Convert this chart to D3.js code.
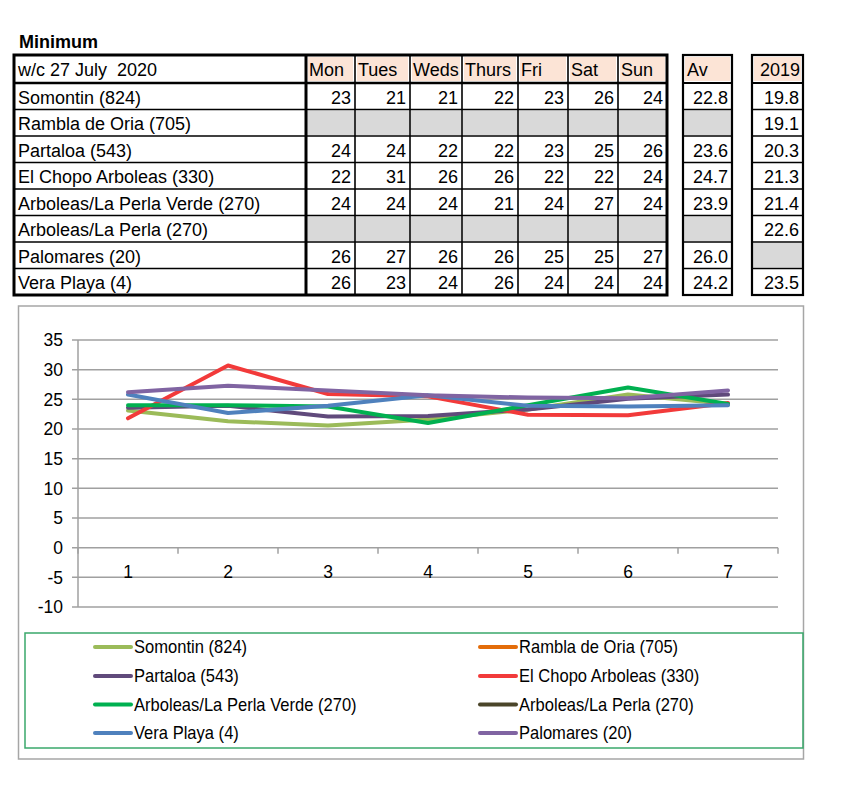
<!DOCTYPE html>
<html><head><meta charset="utf-8">
<script src="https://cdn.jsdelivr.net/npm/d3@7"></script>
<style>
body{margin:0;background:#fff}
svg{display:block}
text{font-family:"Liberation Sans",Arial,sans-serif;fill:#000}
</style></head>
<body><svg id="c" width="859" height="800"></svg>
<script>
// ---------------- DATA ----------------
const title = "Minimum";
const weekLabel = "w/c 27 July  2020";
const days = ["Mon","Tues","Weds","Thurs","Fri","Sat","Sun"];
const stations = ["Somontin (824)","Rambla de Oria (705)","Partaloa (543)","El Chopo Arboleas (330)",
  "Arboleas/La Perla Verde (270)","Arboleas/La Perla (270)","Palomares (20)","Vera Playa (4)"];
const tableSomontin  = [23,21,21,22,23,26,24];
const tableRambla    = [null,null,null,null,null,null,null];
const tablePartaloa  = [24,24,22,22,23,25,26];
const tableChopo     = [22,31,26,26,22,22,24];
const tableVerde     = [24,24,24,21,24,27,24];
const tablePerla     = [null,null,null,null,null,null,null];
const tablePalomares = [26,27,26,26,25,25,27];
const tableVera      = [26,23,24,26,24,24,24];
const averages   = [22.8,null,23.6,24.7,23.9,null,26.0,24.2];
const values2019 = [19.8,19.1,20.3,21.3,21.4,22.6,null,23.5];

// chart series (legend / drawing order)
const seriesNames = ["Somontin (824)","Rambla de Oria (705)","Partaloa (543)","El Chopo Arboleas (330)",
  "Arboleas/La Perla Verde (270)","Arboleas/La Perla (270)","Vera Playa (4)","Palomares (20)"];
const seriesColors = ["#9bbb59","#e36c09","#604a7b","#f23a3a","#00b050","#4a4529","#4f81bd","#8064a2"];
const chartSomontin  = [23.1,21.3,20.6,21.6,23.3,25.8,24.2];
const chartRambla    = [];
const chartPartaloa  = [23.6,23.9,22.1,22.2,23.3,25.1,25.8];
const chartChopo     = [21.8,30.7,25.9,25.5,22.4,22.3,24.4];
const chartVerde     = [24.0,24.0,23.8,21.0,24.0,27.0,24.2];
const chartPerla     = [];
const chartVera      = [25.8,22.7,23.9,25.7,23.9,23.8,24.0];
const chartPalomares = [26.2,27.3,26.5,25.7,25.3,25.2,26.5];
const xCategories = [1,2,3,4,5,6,7];
const yTicks = [-10,-5,0,5,10,15,20,25,30,35];

// ---------------- BUILD ----------------
const tableRows = [tableSomontin,tableRambla,tablePartaloa,tableChopo,tableVerde,tablePerla,tablePalomares,tableVera];
const chartSeries = [chartSomontin,chartRambla,chartPartaloa,chartChopo,chartVerde,chartPerla,chartVera,chartPalomares];

const svg = d3.select("#c");
const FS = 18, AFS = 17.5;

// title
svg.append("text").attr("x",19).attr("y",48).attr("font-weight","bold").attr("font-size",18).text(title);

// table layout
const tTop = 55, headH = 28, rowH = 26.5;
const labelL = 14;
const dayEdges = [306,355,410,462,518,568,618,667];
const avEdges = [683,732];
const y19Edges = [752,803];
const rowY = i => tTop + headH + i*rowH;
const tBottom = rowY(stations.length);

const peach = "#fce4d6", grey = "#d9d9d9";
const g = svg.append("g");

// header fills
days.forEach((d,i)=>{
  g.append("rect").attr("x",dayEdges[i]+2).attr("y",tTop+2).attr("width",dayEdges[i+1]-dayEdges[i]-4).attr("height",headH-4).attr("fill",peach);
});
g.append("rect").attr("x",avEdges[0]+2).attr("y",tTop+2).attr("width",avEdges[1]-avEdges[0]-4).attr("height",headH-4).attr("fill",peach);
g.append("rect").attr("x",y19Edges[0]+2).attr("y",tTop+2).attr("width",y19Edges[1]-y19Edges[0]-4).attr("height",headH-4).attr("fill",peach);

// grey fills for missing
tableRows.forEach((row,r)=>{
  row.forEach((v,c)=>{
    if(v===null) g.append("rect").attr("x",dayEdges[c]+1).attr("y",rowY(r)+1).attr("width",dayEdges[c+1]-dayEdges[c]-2).attr("height",rowH-2).attr("fill",grey);
  });
  if(averages[r]===null) g.append("rect").attr("x",avEdges[0]+1).attr("y",rowY(r)+1).attr("width",avEdges[1]-avEdges[0]-2).attr("height",rowH-2).attr("fill",grey);
  if(values2019[r]===null) g.append("rect").attr("x",y19Edges[0]+1).attr("y",rowY(r)+1).attr("width",y19Edges[1]-y19Edges[0]-2).attr("height",rowH-2).attr("fill",grey);
});

// lines
function hline(x1,x2,y,w){g.append("line").attr("x1",x1).attr("x2",x2).attr("y1",y).attr("y2",y).attr("stroke","#000").attr("stroke-width",w);}
function vline(x,y1,y2,w){g.append("line").attr("x1",x).attr("x2",x).attr("y1",y1).attr("y2",y2).attr("stroke","#000").attr("stroke-width",w);}
for(let i=1;i<stations.length;i++){ hline(labelL,dayEdges[7],rowY(i),1.6); hline(avEdges[0],avEdges[1],rowY(i),1.6); hline(y19Edges[0],y19Edges[1],rowY(i),1.6);}
hline(labelL,dayEdges[7],rowY(0),2.6); hline(avEdges[0],avEdges[1],rowY(0),2); hline(y19Edges[0],y19Edges[1],rowY(0),2);
for(let i=1;i<7;i++) vline(dayEdges[i],tTop,tBottom,1.6);
vline(dayEdges[0],tTop,tBottom,3);
g.append("rect").attr("x",labelL).attr("y",tTop).attr("width",dayEdges[7]-labelL).attr("height",tBottom-tTop).attr("fill","none").attr("stroke","#000").attr("stroke-width",3);
g.append("rect").attr("x",avEdges[0]).attr("y",tTop).attr("width",avEdges[1]-avEdges[0]).attr("height",tBottom-tTop).attr("fill","none").attr("stroke","#000").attr("stroke-width",2.2);
g.append("rect").attr("x",y19Edges[0]).attr("y",tTop).attr("width",y19Edges[1]-y19Edges[0]).attr("height",tBottom-tTop).attr("fill","none").attr("stroke","#000").attr("stroke-width",2.2);

// texts
const tx = svg.append("g").attr("font-size",FS);
tx.append("text").attr("x",18).attr("y",tTop+headH-7).attr("xml:space","preserve").style("white-space","pre").text(weekLabel);
days.forEach((d,i)=>tx.append("text").attr("x",dayEdges[i]+3).attr("y",tTop+headH-7).text(d));
tx.append("text").attr("x",avEdges[0]+4).attr("y",tTop+headH-7).text("Av");
tx.append("text").attr("x",y19Edges[1]-3).attr("y",tTop+headH-7).attr("text-anchor","end").text("2019");
stations.forEach((s,r)=>{
  const by = rowY(r)+rowH-6;
  tx.append("text").attr("x",18).attr("y",by).text(s);
  tableRows[r].forEach((v,c)=>{ if(v!==null) tx.append("text").attr("x",dayEdges[c+1]-4).attr("y",by).attr("text-anchor","end").text(v); });
  if(averages[r]!==null) tx.append("text").attr("x",avEdges[1]-4).attr("y",by).attr("text-anchor","end").text(averages[r].toFixed(1));
  if(values2019[r]!==null) tx.append("text").attr("x",y19Edges[1]-4).attr("y",by).attr("text-anchor","end").text(values2019[r].toFixed(1));
});

// ---------------- CHART ----------------
svg.append("rect").attr("x",18.5).attr("y",306).attr("width",785).attr("height",453).attr("fill","#fff").attr("stroke","#a6a6a6").attr("stroke-width",1.5);

const x = d3.scaleBand().domain(xCategories).range([78,778]).paddingInner(0).paddingOuter(0);
const y = d3.scaleLinear().domain([-10,35]).range([607,340]);
const gridC = "#a0a0a0";
const cg = svg.append("g");
yTicks.forEach(t=>{
  cg.append("line").attr("x1",72).attr("x2",778).attr("y1",y(t)).attr("y2",y(t)).attr("stroke",gridC).attr("stroke-width",1.5);
  cg.append("text").attr("x",63).attr("y",y(t)).attr("dy","0.36em").attr("text-anchor","end").attr("font-size",AFS).text(t);
});
cg.append("line").attr("x1",78).attr("x2",78).attr("y1",y(35)).attr("y2",y(-10)).attr("stroke",gridC).attr("stroke-width",1.5);
// x axis at zero
const edges = xCategories.map(c=>x(c)).concat([x(xCategories[xCategories.length-1])+x.bandwidth()]);
edges.forEach(e=>cg.append("line").attr("x1",e).attr("x2",e).attr("y1",y(0)).attr("y2",y(0)+6).attr("stroke",gridC).attr("stroke-width",1.5));
xCategories.forEach(c=>cg.append("text").attr("x",x(c)+x.bandwidth()/2).attr("y",y(0)+30).attr("text-anchor","middle").attr("font-size",AFS).text(c));

const line = d3.line().x((d,i)=>x(xCategories[i])+x.bandwidth()/2).y(d=>y(d));
chartSeries.forEach((s,i)=>{
  if(s.length) svg.append("path").attr("d",line(s)).attr("fill","none").attr("stroke",seriesColors[i]).attr("stroke-width",4).attr("stroke-linejoin","round").attr("stroke-linecap","round");
});

// legend
svg.append("rect").attr("x",25).attr("y",633).attr("width",778).attr("height",115).attr("fill","none").attr("stroke","#3aa86b").attr("stroke-width",1.5);
const legCols = [95,480], legRows = [647,676,704.5,733];
seriesNames.forEach((n,i)=>{
  const cx = legCols[i%2], cy = legRows[Math.floor(i/2)];
  svg.append("line").attr("x1",cx).attr("x2",cx+36).attr("y1",cy).attr("y2",cy).attr("stroke",seriesColors[i]).attr("stroke-width",4).attr("stroke-linecap","round");
  svg.append("text").attr("transform",`translate(${cx+39},${cy+6}) scale(0.92,1)`).attr("font-size",18).text(n);
});
</script>
</body></html>
